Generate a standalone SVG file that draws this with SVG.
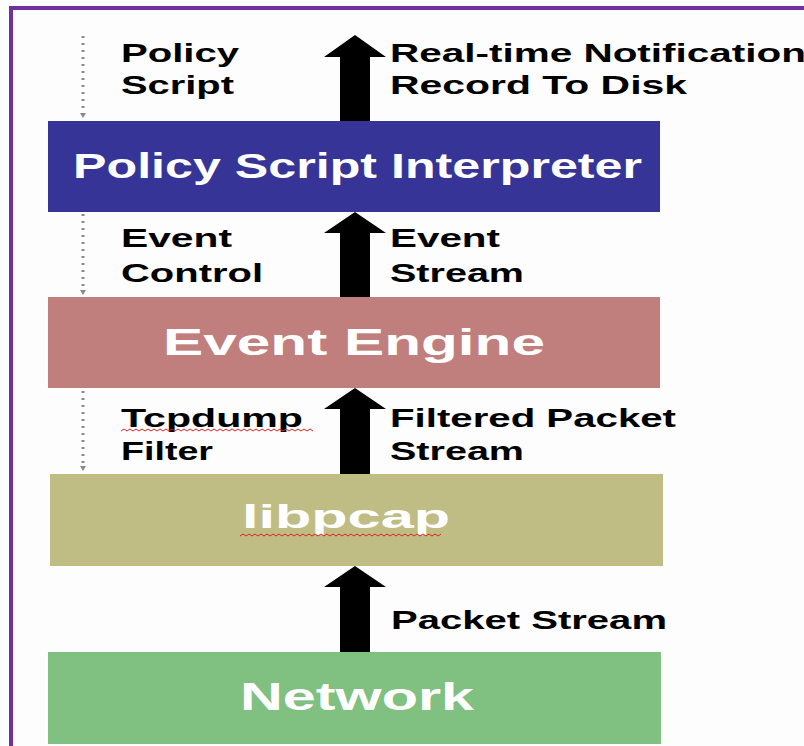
<svg xmlns="http://www.w3.org/2000/svg" width="804" height="746" viewBox="0 0 804 746">
<style>
.lbl{font-family:"Liberation Sans",Arial,sans-serif;font-weight:bold;font-size:26px;fill:#000}
.ttl{font-family:"Liberation Sans",Arial,sans-serif;font-weight:bold;fill:#fff}
.dot{stroke:#8a8a8a;stroke-width:3;stroke-dasharray:2 5;fill:none}
.dh{fill:#8a8a8a}
.arr{fill:#000}
.sq{fill:none;stroke:#e02020;stroke-width:1}
</style>
<rect x="0" y="0" width="804" height="746" fill="#fdfdfd"/>
<rect x="11" y="8" width="900" height="900" fill="none" stroke="#7030a0" stroke-width="4"/>

<g id="policy-interpreter">
<rect x="48" y="121" width="612" height="91" fill="#363497"/>
<text class="ttl" x="73" y="178" font-size="35" textLength="569" lengthAdjust="spacingAndGlyphs">Policy Script Interpreter</text>
</g>
<g id="event-engine">
<rect x="48" y="297" width="612" height="91" fill="#c07e7d"/>
<text class="ttl" x="163" y="355" font-size="37" textLength="382" lengthAdjust="spacingAndGlyphs">Event Engine</text>
</g>
<g id="libpcap">
<rect x="50" y="474" width="613" height="92" fill="#bfbd84"/>
<text class="ttl" x="242" y="528" font-size="34" textLength="208" lengthAdjust="spacingAndGlyphs">libpcap</text>
<path class="sq" d="M240 536 l3 -2 l3 2 l3 -2 l3 2 l3 -2 l3 2 l3 -2 l3 2 l3 -2 l3 2 l3 -2 l3 2 l3 -2 l3 2 l3 -2 l3 2 l3 -2 l3 2 l3 -2 l3 2 l3 -2 l3 2 l3 -2 l3 2 l3 -2 l3 2 l3 -2 l3 2 l3 -2 l3 2 l3 -2 l3 2 l3 -2 l3 2 l3 -2 l3 2 l3 -2 l3 2 l3 -2 l3 2 l3 -2 l3 2 l3 -2 l3 2 l3 -2 l3 2 l3 -2 l3 2 l3 -2 l3 2 l3 -2 l3 2 l3 -2 l3 2 l3 -2 l3 2 l3 -2 l3 2 l3 -2 l3 2 l3 -2 l3 2 l3 -2 l3 2 l3 -2 l3 2 l3 -2"/>
</g>
<g id="network">
<rect x="48" y="652" width="613" height="92" fill="#80c080"/>
<text class="ttl" x="240" y="710" font-size="38" textLength="234" lengthAdjust="spacingAndGlyphs">Network</text>
</g>

<g id="connectors">
<polygon class="arr" points="355,35 324,57 340,57 340,121 370,121 370,57 386,57"/>
<polygon class="arr" points="355,212 324,233 340,233 340,297 370,297 370,233 386,233"/>
<polygon class="arr" points="355,388 324,409 340,409 340,474 370,474 370,409 386,409"/>
<polygon class="arr" points="355,566 324,587 340,587 340,652 370,652 370,587 386,587"/>

<line class="dot" x1="83" y1="36" x2="83" y2="112"/>
<polygon class="dh" points="80,113 86,113 83,118"/>
<line class="dot" x1="83" y1="214" x2="83" y2="290"/>
<polygon class="dh" points="80,290 86,290 83,295"/>
<line class="dot" x1="83" y1="391" x2="83" y2="466"/>
<polygon class="dh" points="80,466 86,466 83,471"/>
</g>

<g id="labels">
<text class="lbl" x="121" y="62" textLength="118" lengthAdjust="spacingAndGlyphs">Policy</text>
<text class="lbl" x="121" y="94" textLength="113" lengthAdjust="spacingAndGlyphs">Script</text>
<text class="lbl" x="390" y="62" textLength="416" lengthAdjust="spacingAndGlyphs">Real-time Notification</text>
<text class="lbl" x="390" y="94" textLength="297" lengthAdjust="spacingAndGlyphs">Record To Disk</text>
<text class="lbl" x="121" y="247" textLength="111" lengthAdjust="spacingAndGlyphs">Event</text>
<text class="lbl" x="121" y="282" textLength="142" lengthAdjust="spacingAndGlyphs">Control</text>
<text class="lbl" x="390" y="247" textLength="110" lengthAdjust="spacingAndGlyphs">Event</text>
<text class="lbl" x="390" y="282" textLength="134" lengthAdjust="spacingAndGlyphs">Stream</text>
<text class="lbl" x="121" y="427" textLength="182" lengthAdjust="spacingAndGlyphs">Tcpdump</text>
<path class="sq" d="M121 431 l3 -2 l3 2 l3 -2 l3 2 l3 -2 l3 2 l3 -2 l3 2 l3 -2 l3 2 l3 -2 l3 2 l3 -2 l3 2 l3 -2 l3 2 l3 -2 l3 2 l3 -2 l3 2 l3 -2 l3 2 l3 -2 l3 2 l3 -2 l3 2 l3 -2 l3 2 l3 -2 l3 2 l3 -2 l3 2 l3 -2 l3 2 l3 -2 l3 2 l3 -2 l3 2 l3 -2 l3 2 l3 -2 l3 2 l3 -2 l3 2 l3 -2 l3 2 l3 -2 l3 2 l3 -2 l3 2 l3 -2 l3 2 l3 -2 l3 2 l3 -2 l3 2 l3 -2 l3 2 l3 -2 l3 2 l3 -2 l3 2 l3 -2 l3 2"/>
<text class="lbl" x="121" y="460" textLength="92" lengthAdjust="spacingAndGlyphs">Filter</text>
<text class="lbl" x="390" y="427" textLength="286" lengthAdjust="spacingAndGlyphs">Filtered Packet</text>
<text class="lbl" x="390" y="460" textLength="134" lengthAdjust="spacingAndGlyphs">Stream</text>
<text class="lbl" x="391" y="629" textLength="276" lengthAdjust="spacingAndGlyphs">Packet Stream</text>
</g>
</svg>
